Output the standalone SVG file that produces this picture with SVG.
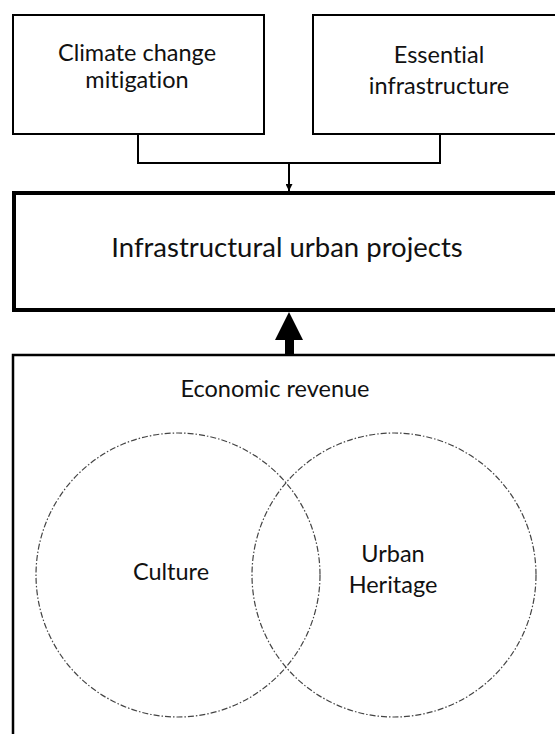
<svg xmlns="http://www.w3.org/2000/svg" width="555" height="734" viewBox="0 0 555 734">
<style>
.t{font-family:Lato,"Liberation Sans",sans-serif;fill:#111;text-anchor:middle;font-size:23.5px;font-variant-ligatures:none}
.box{fill:#fff;stroke:#000}
.c{fill:none;stroke:#444;stroke-width:1.2;stroke-dasharray:6 2 1.5 2}
.ln{fill:none;stroke:#000;stroke-width:2}
</style>
<defs>
<marker id="ah" viewBox="0 0 10 10" refX="10" refY="5" markerWidth="7" markerHeight="7" markerUnits="userSpaceOnUse" orient="auto">
<path d="M0,0 L10,5 L0,10 z" fill="#000"/>
</marker>
</defs>
<g id="climate">
<rect class="box" x="13" y="15" width="251" height="119" stroke-width="2"/>
<text class="t" x="137" y="61">Climate change</text>
<text class="t" x="137" y="88">mitigation</text>
</g>
<g id="essential">
<rect class="box" x="313" y="15" width="260" height="119" stroke-width="2"/>
<text class="t" x="439" y="63">Essential</text>
<text class="t" x="439" y="94">infrastructure</text>
</g>
<g id="projects">
<rect class="box" x="14" y="193" width="560" height="117" stroke-width="4"/>
<text class="t" x="287" y="257" style="font-size:27.5px">Infrastructural urban projects</text>
</g>
<g id="revenue">
<rect class="box" x="13" y="355" width="560" height="400" stroke-width="2.5"/>
<text class="t" x="275" y="397">Economic revenue</text>
</g>
<g id="culture">
<circle class="c" cx="178" cy="575" r="142"/>
<text class="t" x="171" y="580">Culture</text>
</g>
<g id="heritage">
<circle class="c" cx="394" cy="575" r="142"/>
<text class="t" x="393" y="562">Urban</text>
<text class="t" x="393" y="593">Heritage</text>
</g>
<g id="connectors">
<path class="ln" d="M138,134 V163 H440 V134"/>
<path class="ln" d="M289,163 V191" marker-end="url(#ah)"/>
<rect x="285" y="338" width="9" height="17" fill="#000"/>
<path d="M289,312 L303,340 L275,340 z" fill="#000"/>
</g>
</svg>
